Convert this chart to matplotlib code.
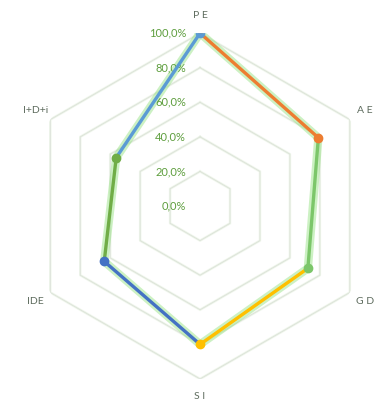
import numpy as np
import matplotlib
matplotlib.use("Agg")
import matplotlib.pyplot as plt

categories = ["P E", "A E", "G D", "S I", "IDE", "I+D+i"]
values = [1.00, 0.79, 0.72, 0.80, 0.64, 0.56]
point_colors = ["#5B9BD5", "#ED7D31", "#7CC66A", "#FFC000", "#4472C4", "#70AD47"]
tick_values = [0.0, 0.2, 0.4, 0.6, 0.8, 1.0]
tick_labels = ["0,0%", "20,0%", "40,0%", "60,0%", "80,0%", "100,0%"]

plt.rcParams["font.family"] = ["Lato", "DejaVu Sans"]

fig = plt.figure(figsize=(3.75, 4.04), dpi=100)
ax = fig.add_axes([0.072, 0.062, 0.923, 0.856], projection="polar")
ax.set_theta_offset(np.pi / 2)
ax.set_theta_direction(-1)
ax.set_ylim(0, 1.0)
ax.grid(False)
ax.set_xticks([])
ax.set_yticks([])
ax.spines["polar"].set_visible(False)
ax.patch.set_alpha(0)

n = len(categories)
angles = np.arange(n) * 2 * np.pi / n
closed = np.append(angles, angles[0])

# hexagon grid
for level in tick_values[1:]:
    ax.plot(closed, [level] * (n + 1), color="#f0f7ec", lw=1.8, zorder=1)
    ax.plot(closed, [level] * (n + 1), color="#dde3da", lw=0.7, zorder=1)

for level, label in zip(tick_values, tick_labels):
    ax.annotate(label, (0, level), xytext=(-10, 0), textcoords="offset points",
                ha="right", va="center", fontsize=8, color="#5e9e3e")

for angle, name in zip(angles, categories):
    ax.text(angle, 1.1, name, ha="center", va="center", fontsize=7.5,
            color="#5d6b5d")

vals = np.array(values)
# green glow under the series
ax.plot(closed, np.append(vals, vals[0]), color="#8fe07a", lw=6, alpha=0.45,
        solid_joinstyle="round", zorder=2)
for i in range(n):
    j = i - 1
    ax.plot([angles[j], angles[i]], [vals[j], vals[i]], color=point_colors[i],
            lw=2.4, solid_capstyle="round", zorder=3)
for i in range(n):
    ax.plot(angles[i], vals[i], "o", color=point_colors[i], ms=6, zorder=4)

fig.savefig("out.png", dpi=100, facecolor="white")
